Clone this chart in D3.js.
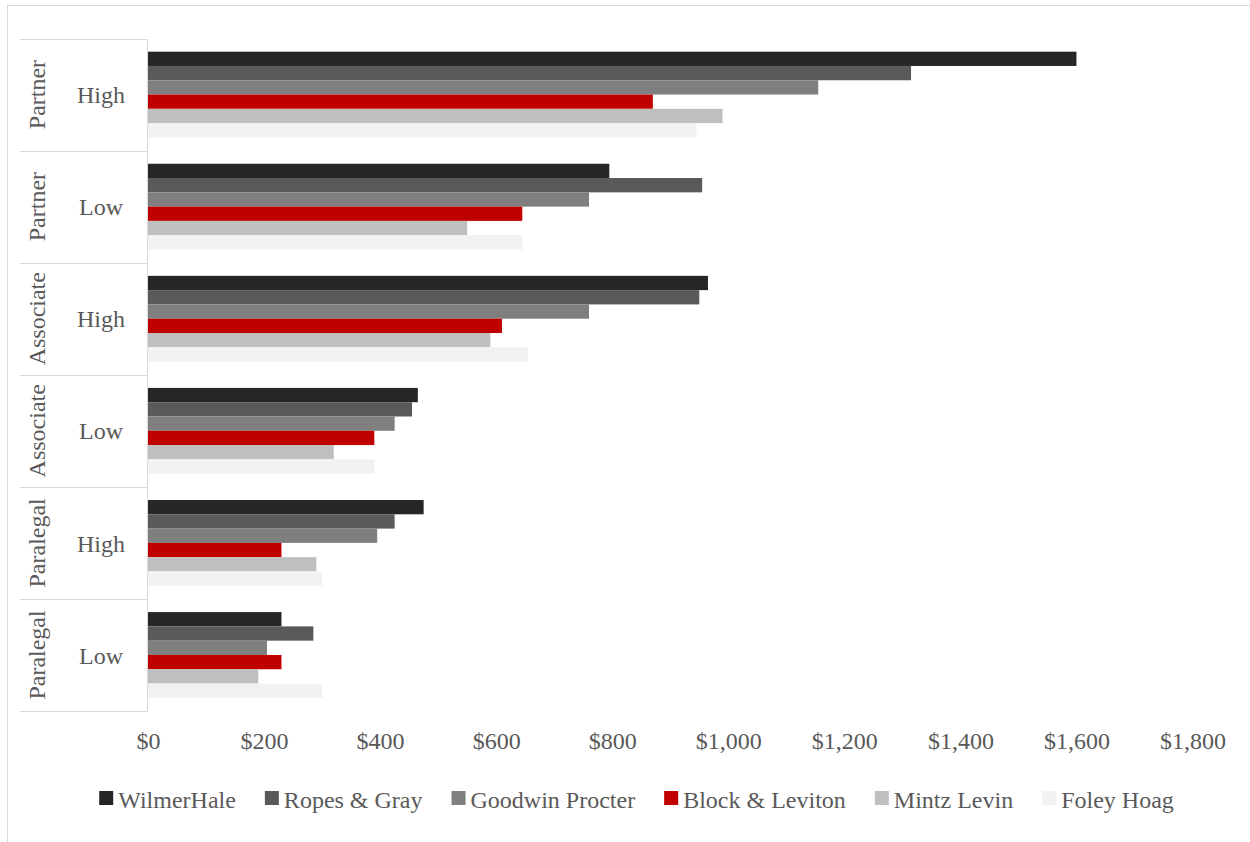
<!DOCTYPE html>
<html>
<head>
<meta charset="utf-8">
<script src="https://d3js.org/d3.v7.min.js"></script>
<style>
  body { margin: 0; background: #fff; }
  text { font-family: "Liberation Serif", "DejaVu Serif", serif; fill: #595959; }
</style>
</head>
<body>
<div id="chart-area"></div>
<script>

// data (hourly rates, $)
var levels = ["Partner", "Partner", "Associate", "Associate", "Paralegal", "Paralegal"];
var grades = ["High", "Low", "High", "Low", "High", "Low"];
var firms = ["WilmerHale", "Ropes & Gray", "Goodwin Procter", "Block & Leviton", "Mintz Levin", "Foley Hoag"];
var wilmerHale     = [1600, 795, 965, 465, 475, 230];
var ropesGray      = [1315, 955, 950, 455, 425, 285];
var goodwinProcter = [1155, 760, 760, 425, 395, 205];
var blockLeviton   = [870, 645, 610, 390, 230, 230];
var mintzLevin     = [990, 550, 590, 320, 290, 190];
var foleyHoag      = [945, 645, 655, 390, 300, 300];
var xTicks = [0, 200, 400, 600, 800, 1000, 1200, 1400, 1600, 1800];
var colors = ["#262626", "#595959", "#7f7f7f", "#c00000", "#bfbfbf", "#f2f2f2"];

var series = [wilmerHale, ropesGray, goodwinProcter, blockLeviton, mintzLevin, foleyHoag];

var width = 1250, height = 842;

var svg = d3.select("#chart-area")
	.append("svg")
		.attr("width", width)
		.attr("height", height);

// chart area border (right/bottom run off the page)
svg.append("rect")
	.attr("x", 7.5).attr("y", 5.5)
	.attr("width", width + 20).attr("height", height + 20)
	.attr("fill", "none")
	.attr("stroke", "#d9d9d9");

var rows = d3.range(levels.length);

var x = d3.scaleLinear()
	.domain([0, 1800])
	.range([148, 1192.5]);

var y0 = d3.scaleBand()
	.domain(rows)
	.range([38.5, 711])
	.paddingInner(0.235)
	.paddingOuter(0.1175);

var y1 = d3.scaleBand()
	.domain(d3.range(firms.length))
	.range([0, y0.bandwidth()]);

// row boundaries of the category axis
var rowTop = function(i){ return y0.range()[0] + i * y0.step(); };
var rowMid = function(i){ return rowTop(i) + y0.step() / 2; };

var axisG = svg.append("g").attr("class", "y axis");
axisG.selectAll("line.sep")
	.data(d3.range(levels.length + 1))
	.enter().append("line")
		.attr("class", "sep")
		.attr("x1", 20).attr("x2", 147.5)
		.attr("y1", function(i){ return Math.round(rowTop(i)) + 0.5; })
		.attr("y2", function(i){ return Math.round(rowTop(i)) + 0.5; })
		.attr("stroke", "#d9d9d9");
axisG.append("line")
	.attr("x1", 147.5).attr("x2", 147.5)
	.attr("y1", Math.round(rowTop(0)) + 0.5)
	.attr("y2", Math.round(rowTop(levels.length)) + 0.5)
	.attr("stroke", "#d9d9d9");

// inner labels (High / Low)
axisG.selectAll("text.grade")
	.data(rows)
	.enter().append("text")
		.attr("class", "grade")
		.attr("x", 101)
		.attr("y", function(i){ return rowMid(i); })
		.attr("dy", "0.36em")
		.attr("text-anchor", "middle")
		.attr("font-size", "24px")
		.text(function(i){ return grades[i]; });

// outer labels (rotated)
axisG.selectAll("text.level")
	.data(rows)
	.enter().append("text")
		.attr("class", "level")
		.attr("transform", function(i){ return "translate(37," + rowMid(i) + ") rotate(-90)"; })
		.attr("dy", "0.34em")
		.attr("text-anchor", "middle")
		.attr("font-size", "24px")
		.text(function(i){ return levels[i]; });

// bars
var groups = svg.selectAll("g.row")
	.data(rows)
	.enter().append("g")
		.attr("class", "row")
		.attr("transform", function(i){ return "translate(0," + y0(i) + ")"; });

groups.selectAll("rect")
	.data(function(i){ return series.map(function(s, k){ return {k: k, v: s[i]}; }); })
	.enter().append("rect")
		.attr("x", x(0))
		.attr("y", function(d){ return y1(d.k); })
		.attr("width", function(d){ return x(d.v) - x(0); })
		.attr("height", y1.bandwidth())
		.attr("fill", function(d){ return colors[d.k]; });

// x axis labels
var xAxisCall = d3.axisBottom(x)
	.tickValues(xTicks)
	.tickSize(0)
	.tickPadding(0)
	.tickFormat(function(d){ return "$" + d3.format(",")(d); });
var xg = svg.append("g")
	.attr("class", "x axis")
	.attr("transform", "translate(0,731)")
	.call(xAxisCall);
xg.select(".domain").remove();
xg.selectAll("text")
	.attr("fill", "#595959")
	.attr("font-size", "24px")
	.attr("font-family", "Liberation Serif, serif")
	.attr("dy", "0.75em");

// legend
var legend = svg.append("g").attr("class", "legend");
var items = legend.selectAll("g")
	.data(firms)
	.enter().append("g");
items.append("rect")
	.attr("width", 14).attr("height", 14)
	.attr("y", 791)
	.attr("fill", function(d, i){ return colors[i]; });
items.append("text")
	.attr("x", 19)
	.attr("y", 808)
	.attr("font-size", "24px")
	.text(function(d){ return d; });

var pos = 0;
items.each(function(){
	var w = d3.select(this).select("text").node().getComputedTextLength();
	d3.select(this).attr("data-x", pos);
	pos += 19 + w + 29;
});
var total = pos - 29;
var start = 636.5 - total / 2;
items.attr("transform", function(){ return "translate(" + (start + (+d3.select(this).attr("data-x"))) + ",0)"; });

</script>
</body>
</html>
